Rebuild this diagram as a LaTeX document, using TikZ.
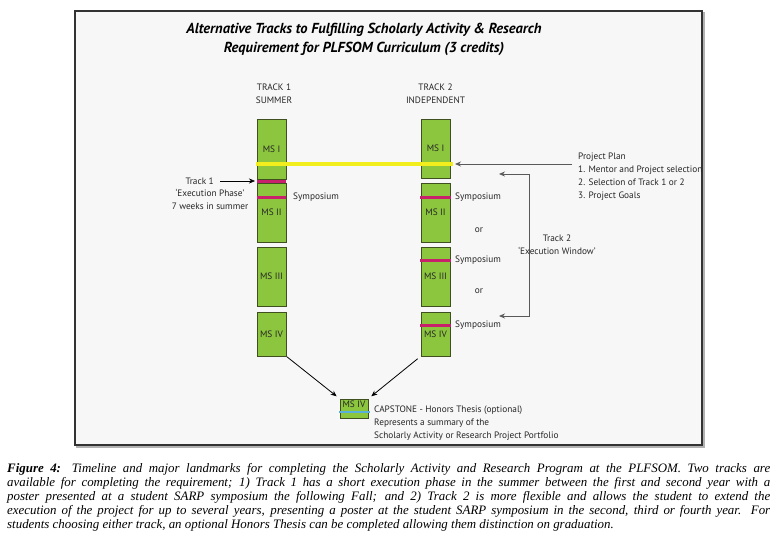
\documentclass[tikz,border=0pt]{standalone}
\usepackage{fontspec}
\setmainfont{Liberation Serif}
\newfontfamily\diagfont{PT Sans}
\usetikzlibrary{arrows.meta}
\definecolor{msgreen}{HTML}{8CC63F}
\definecolor{msedge}{HTML}{3F4F1F}
\definecolor{sympmag}{HTML}{C8206A}
\definecolor{planyellow}{HTML}{F2EE1E}
\definecolor{capblue}{HTML}{5AB0DC}
\definecolor{framebg}{HTML}{F7F7F7}
\tikzset{
  msbox/.style={draw=msedge, fill=msgreen, minimum width=29pt, inner sep=0pt,
    font=\diagfont\fontsize{9.3}{10}\selectfont, text=black!85},
  lbl/.style={font=\diagfont\fontsize{9.3}{13}\selectfont, text=black!85, inner sep=0pt},
  symp/.style={sympmag, line width=3pt},
  tip/.style={-{Stealth[length=6pt,width=5pt]}},
}
\begin{document}
\begin{tikzpicture}[x=1pt,y=-1pt]
            \useasboundingbox (0,0) rectangle (777,543);
            % Draw the frame
            \draw[black!30, line width=2pt] (77,13) rectangle (704,447);
            \draw[fill=framebg, draw=black!80, line width=1.6pt] (75,11) rectangle (702,445);

            % Draw the title
            \node[font=\diagfont\bfseries\itshape\fontsize{14.5}{19}\selectfont, align=center] (title) at (364,39.5)
                {Alternative Tracks to Fulfilling Scholarly Activity \& Research\\Requirement for PLFSOM Curriculum (3 credits)};

            % Draw the two track headings
            \node[lbl, align=center] (t1head) at (274,94) {TRACK 1\\SUMMER};
            \node[lbl, align=center] (t2head) at (435.5,94) {TRACK 2\\INDEPENDENT};

            % Draw the boxes of track 1
            \node[msbox, minimum height=60pt] (t1ms1) at (271.5,149) {MS I};
            \node[msbox, minimum height=59pt] (t1ms2) at (271.5,212.5) {MS II};
            \node[msbox, minimum height=59pt] (t1ms3) at (271.5,276.5) {MS III};
            \node[msbox, minimum height=44pt] (t1ms4) at (271.5,334) {MS IV};

            % Draw the boxes of track 2
            \node[msbox, minimum height=59pt] (t2ms1) at (435.5,148.5) {MS I};
            \node[msbox, minimum height=59pt] (t2ms2) at (435.5,212.5) {MS II};
            \node[msbox, minimum height=59pt] (t2ms3) at (435.5,276.5) {MS III};
            \node[msbox, minimum height=44pt] (t2ms4) at (435.5,334) {MS IV};

            % Project plan line and symposium marks
            \draw[planyellow, line width=3.5pt] (256,164) -- (453,164);
            \draw[symp] (257,181) -- (286,181);
            \draw[symp] (257,197) -- (286,197);
            \draw[symp] (420,197) -- (451,197);
            \draw[symp] (420,260) -- (451,260);
            \draw[symp] (420,325) -- (451,325);

            \node[lbl, anchor=west] (s1) at (293,197) {Symposium};
            \node[lbl, anchor=west] (s2) at (455,197) {Symposium};
            \node[lbl, anchor=west] (s3) at (455,260) {Symposium};
            \node[lbl, anchor=west] (s4) at (455,325) {Symposium};
            \node[lbl] (or1) at (479,230) {or};
            \node[lbl] (or2) at (479,291) {or};

            % Track 1 execution phase
            \node[lbl, anchor=east] (t1lab) at (214,181) {Track 1};
            \coordinate (t1tip) at (255,181);
            \draw[tip, black] (t1lab.east) ++(6,0) -- (t1tip);
            \node[lbl, align=center] (t1phase) at (210,199.5) {‘Execution Phase’\\7 weeks in summer};

            % Project plan
            \node[lbl, anchor=north west, align=left] (plan) at (578,153)
                {Project Plan\\1. Mentor and Project selection\\2. Selection of Track 1 or 2\\3. Project Goals};
            \coordinate (planend) at (572,164);
            \coordinate (plantip) at (455,164);
            \draw[tip, black!65, line width=0.8pt] (planend) -- (plantip);

            % Track 2 execution window
            \coordinate (ewtop) at (499,174);
            \coordinate (ewbot) at (499,316);
            \draw[{Stealth[length=6pt,width=5pt]}-{Stealth[length=6pt,width=5pt]}, black!65, line width=0.8pt]
                (ewtop) -- ++(30,0) |- (ewbot);
            \node[lbl, align=center] (ewlab) at (557,245) {Track 2\\‘Execution Window’};

            % Capstone
            \node[msbox, minimum width=28pt, minimum height=19pt] (cap) at (354,408.5) {};
            \node[lbl] (capname) at (354,404) {MS IV};
            \draw[capblue, line width=1.6pt] (339,412) -- (370,412);
            \draw[tip, black, line width=0.8pt, shorten <=1pt, shorten >=4pt] (t1ms4.south east) -- (cap.north west);
            \draw[tip, black, line width=0.8pt, shorten <=4pt, shorten >=4pt] (t2ms4.south west) -- (cap.north east);
            \node[lbl, anchor=north west, align=left] (captext) at (374,406)
                {CAPSTONE - Honors Thesis (optional)\\Represents a summary of the\\Scholarly Activity or Research Project Portfolio};

            % Caption
            \node[anchor=north west, inner sep=0pt, text width=763pt, align=justify,
                  font=\itshape\fontsize{12.9}{14}\selectfont] (caption) at (7,463)
                {\textbf{Figure 4:} Timeline and major landmarks for completing the Scholarly Activity and Research Program at the PLFSOM. Two tracks are\linebreak
                 available for completing the requirement; 1) Track 1 has a short execution phase in the summer between the first and second year with a\linebreak
                 poster presented at a student SARP symposium the following Fall; and 2) Track 2 is more flexible and allows the student to extend the\linebreak
                 execution of the project for up to several years, presenting a poster at the student SARP symposium in the second, third or fourth year. For\linebreak
                 students choosing either track, an optional Honors Thesis can be completed allowing them distinction on graduation.};
\end{tikzpicture}
\end{document}
